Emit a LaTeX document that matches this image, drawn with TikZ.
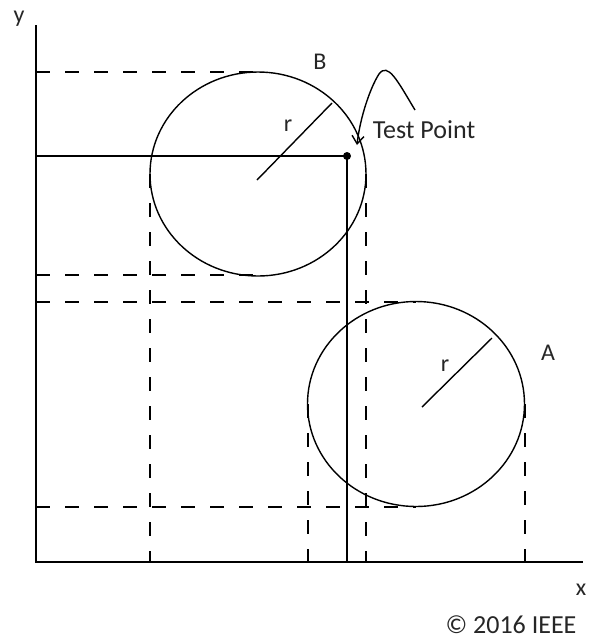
\documentclass[tikz,border=0pt]{standalone}
\usepackage{fontspec}
\setmainfont{Carlito}
\usetikzlibrary{calc, arrows.meta}

\tikzset{
  guide/.style={line width=0.9pt, dash pattern=on 7pt off 7.5pt},
  ring/.style={line width=0.7pt},
  lbl/.style={font=\fontsize{12}{14}\selectfont, text=black!85}
}

\begin{document}
\begin{tikzpicture}[x=0.5pt, y=-0.5pt, line cap=butt]
  \useasboundingbox (0,0) rectangle (589,639);

  % axes
  \coordinate (O)  at (36,562);
  \coordinate (Yt) at (36,25);
  \coordinate (Xr) at (583,562);
  \draw[line width=1pt] (Yt) -- (O) -- (Xr);
  \node[lbl] (ylab) at (19,19) {y};
  \node[lbl] (xlab) at (581,590) {x};

  % circle centres
  \coordinate (B) at (258,174);
  \coordinate (A) at (416,404);
  \draw[ring] (B) ellipse (108 and 102);
  \draw[ring] (A) ellipse (108.5 and 102.5);

  % radii
  \draw[ring] (257,180) -- (332,103);
  \draw[ring] (422,407) -- (492,338);
  \node[lbl] (rB) at (288,126) {r};
  \node[lbl] (rA) at (445,366) {r};
  \node[lbl] (labB) at (320,62) {B};
  \node[lbl] (labA) at (548,353) {A};

  % horizontal guides (top / bottom of each circle)
  \draw[guide] (36,72)  -- (258,72);
  \draw[guide] (36,275) -- (258,275);
  \draw[guide] (36,302) -- (416,302);
  \draw[guide] (36,507) -- (416,507);

  % vertical guides (left / right of each circle)
  \foreach \x/\y in {150/174, 366/174, 308/404, 525/404} {
    \draw[guide] (\x,\y) -- (\x,562);
  }

  % test point and its projections
  \coordinate (T) at (347,156);
  \draw[line width=1pt] (36,156) -- (T) -- (347,562);
  \fill (T) circle (4);

  % pointer to the test point
  \coordinate (Ptail) at (415,110);
  \coordinate (Ptip)  at (357,145);
  \draw[ring, -{Straight Barb[length=4pt, width=6pt]}]
    (Ptail) .. controls (397,80) and (388,62) .. (379,74)
            .. controls (370,88) and (360,118) .. (Ptip);
  \node[lbl, font=\fontsize{13}{15}\selectfont] (tp) at (424,130) {Test Point};

  \node[lbl] (copy) at (511,625) {\fontsize{13}{15}\selectfont © 2016 IEEE};
\end{tikzpicture}
\end{document}
